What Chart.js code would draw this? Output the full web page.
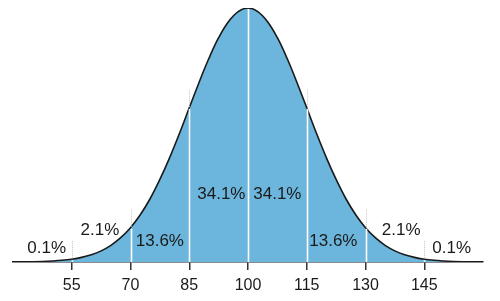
<!DOCTYPE html>
<html>
<head>
<meta charset="utf-8">
<script src="https://cdn.jsdelivr.net/npm/chart.js@4.4.1/dist/chart.umd.min.js"></script>
<style>
    html, body { margin: 0; padding: 0; background: #ffffff; }
    #wrap { width: 500px; height: 301px; position: relative; }
</style>
</head>
<body>
<div id="wrap"><canvas id="bellChart"></canvas></div>
<script>
// IQ scores along the curve and the curve height (percent of the peak)
const scores = [40, 42.5, 45, 47.5, 50, 52.5, 55, 57.5, 60, 62.5, 65, 67.5, 70, 72.5, 75, 77.5, 80, 82.5,
    85, 87.5, 90, 92.5, 95, 97.5, 100, 102.5, 105, 107.5, 110, 112.5, 115, 117.5, 120, 122.5, 125, 127.5,
    130, 132.5, 135, 137.5, 140, 142.5, 145, 147.5, 150, 152.5, 155, 157.5, 160];
const heights = [0.03, 0.06, 0.12, 0.22, 0.39, 0.66, 1.11, 1.81, 2.86, 4.39, 6.57, 9.56, 13.5, 18.6, 24.9, 32.5, 41.1, 50.6,
    60.7, 70.7, 80.1, 88.3, 94.6, 98.6, 100, 98.6, 94.6, 88.3, 80.1, 70.7, 60.7, 50.6, 41.1, 32.5, 24.9, 18.6,
    13.5, 9.56, 6.57, 4.39, 2.86, 1.81, 1.11, 0.66, 0.39, 0.22, 0.12, 0.06, 0.03];

// Axis ticks and the band dividers
const tickValues = [55, 70, 85, 100, 115, 130, 145];
const dividers = [55, 70, 85, 100, 115, 130, 145];

// Percentage labels: [score position, height position, text]
const bandLabels = [
    [48.6, 5.5, '0.1%'],
    [62.2, 12.6, '2.1%'],
    [77.5, 8.3, '13.6%'],
    [93.2, 26.8, '34.1%'],
    [107.5, 26.8, '34.1%'],
    [121.8, 8.3, '13.6%'],
    [139.1, 12.6, '2.1%'],
    [152.0, 5.5, '0.1%']
];

// Height of the curve at one of the listed scores
function curveAt(score) {
    const i = scores.indexOf(score);
    return i >= 0 ? heights[i] : 0;
}

// Draws the white dividers inside the fill, the dotted bits above the curve and the labels
const dividerPlugin = {
    id: 'dividers',
    afterDatasetsDraw(chart) {
        const ctx = chart.ctx;
        const x = chart.scales.x;
        const y = chart.scales.y;
        ctx.save();
        dividers.forEach(v => {
            const px = Math.round(x.getPixelForValue(v)) + 0.5;
            const top = y.getPixelForValue(curveAt(v));
            const base = y.getPixelForValue(0);
            ctx.strokeStyle = '#ffffff';
            ctx.lineWidth = 1.6;
            ctx.setLineDash([]);
            ctx.beginPath();
            ctx.moveTo(px, base);
            ctx.lineTo(px, top + 1);
            ctx.stroke();
            if (v !== 100) {
                ctx.strokeStyle = '#c4c4c4';
                ctx.lineWidth = 1;
                ctx.setLineDash([1, 1]);
                ctx.beginPath();
                ctx.moveTo(px, top - 1);
                ctx.lineTo(px, top - 18);
                ctx.stroke();
            }
        });
        ctx.restore();

        ctx.save();
        ctx.fillStyle = '#1a1a1a';
        ctx.font = '17px "Liberation Sans", Arial, sans-serif';
        ctx.textAlign = 'center';
        ctx.textBaseline = 'middle';
        bandLabels.forEach(l => {
            ctx.fillText(l[2], x.getPixelForValue(l[0]), y.getPixelForValue(l[1]));
        });
        ctx.restore();
    }
};

document.addEventListener('DOMContentLoaded', function () {
    const points = scores.map((s, i) => ({ x: s, y: heights[i] }));

    new Chart(document.getElementById('bellChart'), {
        type: 'line',
        data: {
            datasets: [{
                data: points,
                borderColor: '#1a1a1a',
                borderWidth: 1.6,
                backgroundColor: '#6cb6dd',
                fill: 'origin',
                pointRadius: 0,
                tension: 0.4
            }]
        },
        options: {
            responsive: true,
            maintainAspectRatio: false,
            animation: false,
            layout: {
                padding: { left: 13, right: 17, top: 8, bottom: 0 }
            },
            plugins: {
                legend: { display: false },
                tooltip: { enabled: false }
            },
            scales: {
                x: {
                    type: 'linear',
                    min: 40,
                    max: 160,
                    afterBuildTicks: scale => {
                        scale.ticks = tickValues.map(v => ({ value: v }));
                    },
                    // keep the axis line where the reference has it
                    afterFit: scale => {
                        scale.height = 39;
                    },
                    border: { color: '#1a1a1a', width: 1.6 },
                    grid: {
                        drawOnChartArea: false,
                        drawTicks: true,
                        tickLength: 8,
                        color: '#333333',
                        lineWidth: 1.5
                    },
                    ticks: {
                        color: '#1a1a1a',
                        padding: 6,
                        maxRotation: 0,
                        font: { family: '"Liberation Sans", Arial, sans-serif', size: 16 }
                    }
                },
                y: {
                    display: false,
                    min: 0,
                    max: 100
                }
            }
        },
        plugins: [dividerPlugin]
    });
});
</script>
</body>
</html>
